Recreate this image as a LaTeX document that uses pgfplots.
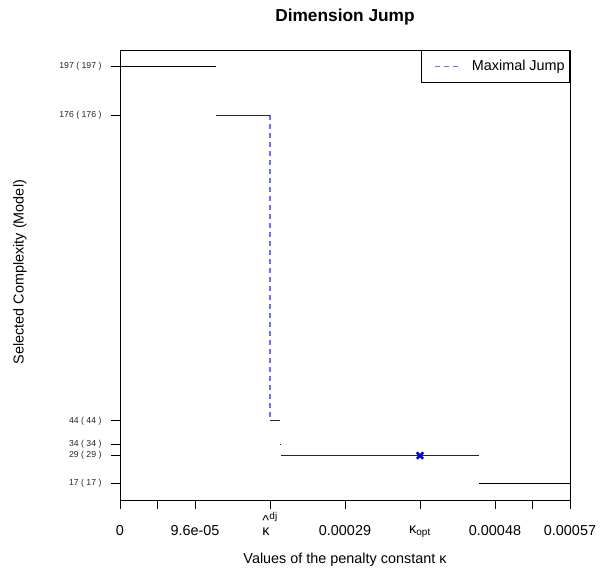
\documentclass[border=0pt]{standalone}
\usepackage{pgfplots}
\pgfplotsset{compat=1.18}
\usepackage{amsmath}
\usepackage{fontspec}
\setmainfont{Liberation Sans}
\definecolor{jumpblue}{RGB}{110,110,255}
\definecolor{segcol}{RGB}{40,40,40}
\begin{document}
\begin{tikzpicture}[x=1pt,y=1pt]
\useasboundingbox (0,0) rectangle (609,576);
\begin{axis}[
  at={(120pt,76pt)}, anchor=south west, scale only axis,
  width=450pt, height=450pt,
  xmin=0, xmax=57, ymin=9.8, ymax=204.2,
  scaled x ticks=false,
  axis line style={line width=0.9pt, black},
  tick align=outside, major tick length=9pt,
  tick style={black, line width=0.8pt},
  xtick pos=bottom, ytick pos=left,
  xtick={0,4.75,9.5,19,28.5,38,47.5,52.25,57},
  xticklabels={0,,9.6e-05,{$\mathord{\overset{\raisebox{-0.35em}{\text{\textasciicircum}}}{\text{κ}}}^{\text{\raisebox{-1.5pt}{dj}}}$},0.00029,{\raisebox{2pt}{κ\textsubscript{opt}}},0.00048,,0.00057},
  xticklabel style={font=\fontsize{14.4}{16}\selectfont, anchor=base, yshift=-26pt},
  ytick={17,29,34,44,176,197},
  yticklabels={17 ( 17 ),29 ( 29 ),34 ( 34 ),44 ( 44 ),176 ( 176 ),197 ( 197 )},
  yticklabel style={font=\fontsize{8.7}{10}\selectfont, xshift=-6pt, text=black!85},
  legend style={at={(1,1)}, anchor=north east, draw=black, line width=0.6pt,
    font=\fontsize{14.4}{16}\selectfont, inner xsep=2pt, inner ysep=7pt,
    nodes={inner sep=3pt}},
  legend image code/.code={\path (0pt,0pt); \draw[#1] (11pt,0pt) -- (36pt,0pt);},
]
\addplot[jumpblue, dashed, dash pattern=on 5pt off 4pt, line width=1.2pt] coordinates {(19,176) (19,44)};
\addlegendentry{\hspace{8pt}Maximal Jump}
\addplot[black, line width=0.8pt, forget plot] coordinates {(0,197) (12.16,197)};
\addplot[segcol, line width=0.9pt, forget plot] coordinates {(12.16,176) (19,176)};
\addplot[segcol, line width=0.9pt, forget plot] coordinates {(19,44) (20.3,44)};
\addplot[segcol, line width=0.9pt, forget plot] coordinates {(20.3,34) (20.45,34)};
\addplot[segcol, line width=0.9pt, forget plot] coordinates {(20.45,29) (45.5,29)};
\addplot[black, line width=0.8pt, forget plot] coordinates {(45.5,17) (57,17)};
\addplot[only marks, mark=x, mark size=4.5pt, blue!90!black, mark options={line width=2.4pt}, forget plot] coordinates {(38,29)};
\end{axis}
\node[font=\fontsize{17.3}{19}\selectfont\bfseries] at (345,559) {Dimension Jump};
\node[font=\fontsize{14.4}{16}\selectfont] at (345,16) {Values of the penalty constant κ};
\node[font=\fontsize{14.4}{16}\selectfont, rotate=90] at (20,304) {Selected Complexity (Model)};
\end{tikzpicture}
\end{document}
